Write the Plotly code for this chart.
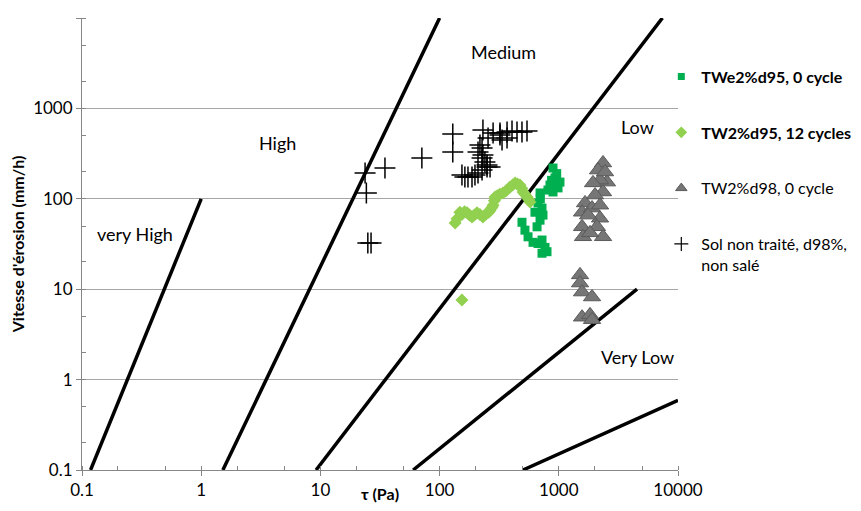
import plotly.graph_objects as go

# ---- data ----
tick_vals = [0.1, 1, 10, 100, 1000, 10000]
tick_text = ["0.1", "1", "10", "100", "1000", "10000"]

# Untreated soil (crosses)
x_sol = [23.7, 24.3, 34.8, 71, 129, 129, 25, 26.6,
         231, 255, 218, 281, 321, 334, 368, 405, 446, 491, 541, 368, 321,
         227, 231, 240, 250, 227, 210,
         154, 163, 173, 187, 198, 210, 227, 250, 265]
y_sol = [193, 116, 219, 283, 521, 330, 32.4, 32.4,
         577, 471, 394, 535, 535, 447, 548, 562, 548, 548, 562, 471, 508,
         365, 305, 255, 236, 283, 330,
         183, 174, 174, 174, 183, 193, 208, 225, 225]

# TW2%d95, 12 cycles (light green diamonds)
x_lg = [135, 140, 148, 155, 162, 170, 178, 187, 196, 206, 218, 231, 245, 258,
        265, 275, 281, 288, 292, 305, 320, 340, 360, 390, 410, 430, 450, 472,
        490, 501, 520, 541, 560, 573, 154]
y_lg = [54, 60, 71, 68, 72, 70, 66, 63, 66, 70, 67, 63, 68, 71,
        74, 80, 85, 95, 105, 108, 112, 116, 122, 135, 142, 150, 146, 142,
        130, 119, 112, 105, 98, 92, 7.6]

# TWe2%d95, 0 cycle (green squares)
x_g = [894, 929, 843, 811, 894, 985, 1023, 960, 870,
       696, 670, 631, 723, 737, 696, 657, 700,
       491, 520, 552, 608, 670, 723, 766, 796, 723]
y_g = [219, 170, 142, 125, 119, 132, 153, 190, 160,
       116, 90, 71, 79, 66, 58, 49, 100,
       55, 45, 38, 33, 32, 35, 29, 26, 25]

# TW2%d98, 0 cycle (grey triangles)
x_t = [2350, 2133, 2535, 2218, 1937, 2350, 1660, 1567, 1901, 2218, 1567, 2091,
       1597, 2350, 1828, 2443, 2014, 1760, 2218,
       1507, 1507, 1567, 1901, 1567, 1828, 1901]
y_t = [249, 208, 153, 161, 150, 119, 90, 71, 79, 61, 49, 49,
       38, 38, 42, 198, 110, 66, 85,
       14.4, 11.7, 9.3, 8.2, 4.9, 5.2, 4.6]

# Erodibility boundary lines (endpoints)
bnd_x = [[0.118, 1], [1.52, 100], [9.2, 7400], [60, 4530], [500, 10000]]
bnd_y = [[0.1, 100], [0.1, 10000], [0.1, 10000], [0.1, 10], [0.1, 0.59]]

zone_labels = ["Medium", "High", "very High", "Low", "Very Low"]
zone_x = [2.532, 0.644, -0.555, 3.664, 3.656]   # log10 positions
zone_y = [3.624, 2.617, 1.611, 2.794, 0.250]

FONT = "Lato"
fig = go.Figure()

for bx, by in zip(bnd_x, bnd_y):
    fig.add_trace(go.Scatter(x=bx, y=by, mode="lines", showlegend=False,
                             line=dict(color="black", width=3.5), hoverinfo="skip"))

series = [
    (x_g, y_g, "<b>TWe2%d95, 0 cycle</b>", dict(symbol="square", size=9, color="#00B050"),
     dict(symbol="square", size=7, color="#00B050")),
    (x_lg, y_lg, "<b>TW2%d95, 12 cycles</b>", dict(symbol="diamond", size=10, color="#92D050"),
     dict(symbol="diamond", size=9, color="#92D050")),
    (x_t, y_t, "TW2%d98, 0 cycle",
     dict(symbol="triangle-up", size=15, color="#767676", line=dict(color="#5a5a5a", width=1)),
     dict(symbol="triangle-up", size=10, color="#767676", line=dict(color="#5a5a5a", width=1))),
    (x_sol, y_sol, "Sol non traité, d98%,<br>non salé",
     dict(symbol="cross-thin", size=15, color="black", line=dict(color="black", width=1.5)),
     dict(symbol="cross-thin", size=10, color="black", line=dict(color="black", width=1.2))),
]

for i, (xs, ys, name, mk, lmk) in enumerate(series):
    fig.add_trace(go.Scatter(x=xs, y=ys, mode="markers", name=name, showlegend=False,
                             marker=mk))
    fig.add_trace(go.Scatter(x=[None], y=[None], mode="markers", name=name,
                             legendgroup="g%d" % i, marker=lmk))

for t, zx, zy in zip(zone_labels, zone_x, zone_y):
    fig.add_annotation(x=zx, y=zy, xref="x", yref="y", text=t, showarrow=False,
                       font=dict(family=FONT, size=18, color="black"))

axis_common = dict(type="log", tickmode="array", tickvals=tick_vals, ticktext=tick_text,
                   showline=True, linecolor="#868686", linewidth=1,
                   ticks="outside", ticklen=5, tickcolor="#868686",
                   tickfont=dict(family=FONT, size=17, color="black"),
                   minor=dict(ticks="inside", ticklen=4, tickcolor="#868686", showgrid=False),
                   zeroline=False, mirror=False, automargin=False)

fig.update_xaxes(**axis_common, range=[-1, 4], showgrid=False,
                 title=dict(text="<b>τ (Pa)</b>", font=dict(family=FONT, size=16, color="black"),
                            standoff=0))
fig.update_yaxes(**axis_common, range=[-1, 4], showgrid=True, gridcolor="#a6a6a6", gridwidth=1,
                 title=dict(text="<b>Vitesse d'érosion (mm/h)</b>",
                            font=dict(family=FONT, size=16, color="black"), standoff=6))

fig.update_layout(
    width=845, height=495,
    margin=dict(l=74, r=175, t=10, b=33, autoexpand=False),
    plot_bgcolor="white", paper_bgcolor="white",
    font=dict(family=FONT, size=16, color="black"),
    legend=dict(x=0.972, xanchor="left", y=0.908, yanchor="top",
                tracegroupgap=32, valign="top",
                font=dict(family=FONT, size=16, color="black"),
                bgcolor="rgba(0,0,0,0)"),
    showlegend=True,
)

fig.write_html("out.html")
